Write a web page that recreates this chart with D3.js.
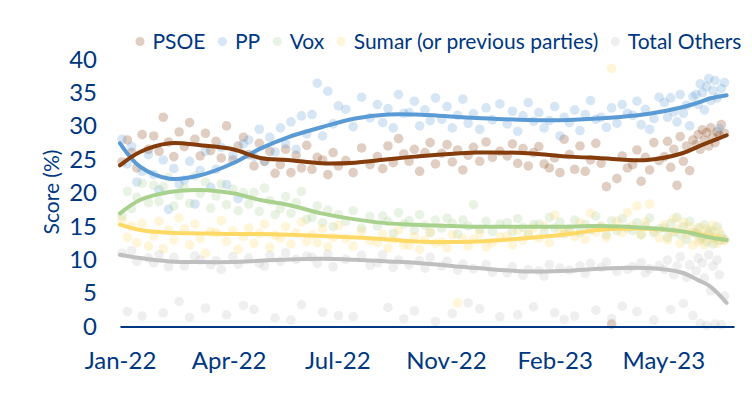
<!DOCTYPE html>
<html>
<head>
<meta charset="utf-8">
<script src="https://cdn.jsdelivr.net/npm/d3@7"></script>
<style>
  body { margin: 0; background: #fff; }
  text { font-family: Lato, "Open Sans", sans-serif; }
</style>
</head>
<body>
<script>
// Poll dates (one entry per poll, every party read at the same date)
const pollDates = [
  "2022-01-03","2022-01-08","2022-01-12","2022-01-17","2022-01-22","2022-01-28",
  "2022-02-02","2022-02-07","2022-02-11","2022-02-16","2022-02-21","2022-02-26",
  "2022-03-03","2022-03-08","2022-03-13","2022-03-18","2022-03-23","2022-03-28",
  "2022-04-02","2022-04-07","2022-04-12","2022-04-18","2022-04-23","2022-04-28",
  "2022-05-03","2022-05-08","2022-05-13","2022-05-18","2022-05-23","2022-05-28",
  "2022-06-02","2022-06-07","2022-06-12","2022-06-17","2022-06-22","2022-06-27",
  "2022-07-02","2022-07-07","2022-07-12","2022-07-17","2022-07-22","2022-07-27",
  "2022-08-03","2022-08-10","2022-08-18","2022-08-26",
  "2022-09-02","2022-09-07","2022-09-12","2022-09-17","2022-09-22","2022-09-27",
  "2022-10-02","2022-10-07","2022-10-12","2022-10-17","2022-10-22","2022-10-27",
  "2022-11-02","2022-11-07","2022-11-12","2022-11-17","2022-11-22","2022-11-27",
  "2022-12-02","2022-12-08","2022-12-14","2022-12-20","2022-12-27",
  "2023-01-03","2023-01-08","2023-01-13","2023-01-18","2023-01-23","2023-01-28",
  "2023-02-02","2023-02-07","2023-02-12","2023-02-17","2023-02-22","2023-02-26",
  "2023-03-03","2023-03-08","2023-03-13","2023-03-18","2023-03-23","2023-03-28",
  "2023-04-02","2023-04-07","2023-04-12","2023-04-17","2023-04-22","2023-04-27",
  "2023-05-02","2023-05-06","2023-05-10","2023-05-14","2023-05-18","2023-05-22","2023-05-27",
  "2023-06-01","2023-06-04","2023-06-07","2023-06-10","2023-06-13","2023-06-16","2023-06-19","2023-06-22","2023-06-25","2023-06-28",
  "2023-07-01","2023-07-03","2023-07-05","2023-07-07","2023-07-09","2023-07-11","2023-07-13","2023-07-15","2023-07-17","2023-07-19","2023-07-21","2023-07-23","2023-07-25","2023-07-28"
];

const psoe = [
  24.5,27.8,25.9,23.6,28.6,26.4, 28.4,26.1,31.2,27.5,25.3,29.0, 26.8,30.4,27.9,25.4,28.8,26.2,
  27.6,25.1,29.9,24.8,26.9,28.2, 25.6,23.9,27.3,24.6,26.1,22.8, 24.1,26.4,22.9,25.5,23.6,27.0,
  23.4,25.2,24.8,22.6,25.9,23.9, 24.7,22.9,26.6,24.1, 25.3,23.5,26.9,24.4,28.0,25.7,
  24.6,26.4,23.1,25.9,27.4,24.2, 25.8,27.1,24.5,26.3,23.3,25.5, 26.7,24.6,27.5,25.2,26.1,
  25.4,27.2,24.3,26.5,23.9,25.9, 26.8,24.2,23.6,25.1,22.9,27.9, 25.6,23.4,26.9,23.1,24.8,27.3,
  24.3,20.8,0.2,22.0,25.4,23.6, 24.1,26.3,21.6,25.2,23.3,27.4,24.7,
  25.3,27.6,23.7,26.4,21.0,28.3,24.6,26.9,23.2,27.8,
  27.1,28.6,26.4,29.3,27.8,28.9,26.9,29.6,28.2,27.4,29.0,28.5,30.1,28.8
];
const pp = [
  27.9,24.2,26.8,21.5,23.1,25.6, 22.6,20.3,24.8,17.4,23.5,21.2, 21.8,24.6,18.2,23.2,26.1,20.7,
  23.4,26.7,21.1,25.5,19.0,27.2, 27.8,25.3,29.4,24.6,28.2,26.0, 29.6,27.2,30.5,26.4,31.4,28.7,
  31.6,36.3,28.4,35.1,30.2,32.9, 32.4,29.8,34.2,31.1, 33.1,30.4,32.5,29.6,34.6,31.8,
  31.9,33.6,29.9,32.3,30.7,34.1, 30.9,32.8,29.6,31.5,33.9,30.3, 31.7,29.4,32.6,30.8,33.2,
  30.2,32.1,29.1,31.4,33.4,30.6, 31.9,29.6,30.7,32.8,28.4,31.2, 30.4,32.3,29.2,31.6,33.7,30.9,
  31.2,29.7,32.6,30.3,33.1,31.8, 31.5,33.6,30.1,32.4,29.4,31.0,34.2,
  33.4,31.2,34.1,32.0,30.5,34.6,31.8,33.0,29.9,34.3,
  34.6,33.1,36.2,34.9,32.3,35.8,37.0,33.7,35.2,36.7,34.1,29.5,35.5,36.4
];
const vox = [
  16.4,20.1,17.5,19.2,21.3,18.4, 21.0,18.6,20.8,22.2,17.9,19.5, 20.6,18.3,22.4,19.8,21.5,17.6,
  19.4,21.2,18.1,20.4,17.2,19.9, 18.2,19.9,17.1,20.6,18.7,16.6, 17.5,19.3,16.8,18.4,20.1,15.9,
  16.2,17.9,15.4,17.3,14.8,16.6, 15.6,17.2,14.6,16.3, 14.9,16.4,15.6,13.8,16.9,15.2,
  15.7,14.3,16.6,15.0,13.9,15.8, 14.6,16.1,15.3,13.7,15.8,14.9, 18.1,14.4,15.6,14.1,15.2,
  15.4,14.1,16.0,14.7,13.6,15.1, 15.2,14.0,16.2,14.6,15.5,13.7, 14.5,15.8,13.9,15.1,14.3,16.4,
  14.9,13.6,15.7,14.2,16.0,14.6, 14.2,15.4,13.6,14.9,16.1,13.9,14.5,
  14.6,13.2,15.3,14.0,16.2,13.6,14.8,12.9,15.6,13.9,
  13.8,14.6,12.9,13.4,15.1,12.5,13.9,14.2,12.2,13.1,14.8,12.7,13.5,12.9
];
const sumar = [
  15.8,13.2,14.9,12.4,15.3,11.9, 13.4,15.6,11.5,14.3,12.8,16.1, 14.5,12.1,15.2,13.0,10.8,14.1,
  13.9,15.7,12.6,14.2,11.4,13.3, 14.6,12.3,13.8,15.2,11.7,13.5, 13.1,14.8,12.2,13.9,15.5,12.6,
  13.6,12.4,14.5,11.8,13.2,15.0, 13.0,11.9,14.1,12.7, 12.4,13.7,11.6,12.9,14.3,12.1,
  12.0,13.3,11.4,12.8,14.0,12.3, 12.5,11.6,13.6,3.4,13.1,11.9, 12.9,13.8,11.8,12.4,13.3,
  13.4,12.1,14.2,12.8,13.7,14.6, 13.1,14.9,12.4,16.5,13.8,14.4, 14.2,13.3,15.4,12.9,16.8,14.0,
  14.8,13.2,38.5,15.6,13.9,16.9, 14.9,17.9,13.6,15.5,18.2,14.2,13.1,
  15.1,12.8,13.9,16.0,14.4,12.3,15.5,13.6,14.8,12.0,
  13.9,12.6,14.7,13.2,12.1,14.4,13.6,12.9,15.0,13.4,12.3,14.1,13.0,12.7
];
const others = [
  10.8,2.1,11.2,9.6,1.4,10.1, 9.4,10.6,1.9,8.8,10.2,3.6, 8.9,1.2,10.4,9.8,2.6,9.1,
  9.7,8.4,1.6,10.3,9.2,3.0, 10.1,2.4,9.3,8.9,10.5,1.1, 9.6,10.9,0.8,9.9,3.1,10.4,
  10.2,9.3,2.0,10.7,8.8,1.5, 9.9,1.3,10.5,9.0, 9.4,10.6,2.7,8.7,9.8,1.0,
  9.1,2.2,9.7,8.6,10.2,0.6, 8.9,9.6,1.8,8.3,9.2,3.4, 8.5,2.5,9.1,8.0,1.3,
  7.9,8.8,1.6,7.5,8.4,2.8, 8.2,7.4,9.1,1.9,8.6,0.9, 8.3,1.4,8.9,7.8,9.3,2.3,
  8.7,9.5,1.0,8.1,2.9,8.4, 8.8,2.1,9.4,7.9,8.5,0.8,9.0,
  8.4,9.8,2.4,7.6,8.9,10.3,3.3,7.2,9.1,1.5,
  8.2,10.1,0.3,9.4,7.1,0.0,10.6,5.2,8.9,0.2,9.8,7.6,0.1,4.4
];

// Trend lines
const trendDates = [
  "2022-01-01","2022-01-20","2022-02-17","2022-03-18","2022-04-18","2022-05-14","2022-06-09",
  "2022-07-11","2022-08-12","2022-09-12","2022-10-08","2022-12-05","2023-01-22","2023-03-03",
  "2023-03-30","2023-05-16","2023-06-18","2023-07-03","2023-07-14","2023-07-30"
];
const psoeTrend   = [24.0,26.0,27.3,27.0,26.4,25.1,24.8,24.3,24.4,24.9,25.3,25.9,25.8,25.3,25.1,24.8,25.8,26.8,27.5,28.5];
const ppTrend     = [27.3,23.8,22.0,22.5,24.3,26.5,28.2,29.7,31.0,31.6,31.6,31.1,30.8,30.8,31.0,31.7,32.7,33.4,34.0,34.5];
const voxTrend    = [16.8,18.8,20.0,20.3,19.8,18.8,18.1,16.8,15.9,15.3,15.1,14.8,14.8,14.8,14.9,14.6,14.1,13.6,13.2,12.8];
const sumarTrend  = [15.1,14.3,13.9,13.8,13.7,13.7,13.6,13.4,13.2,12.9,12.6,12.6,13.1,13.7,14.3,14.5,14.1,13.7,13.3,12.8];
const othersTrend = [10.6,10.1,9.6,9.5,9.5,9.7,9.9,10.0,9.85,9.6,9.4,8.6,8.1,8.2,8.5,8.6,7.9,6.8,5.9,3.4];

const seriesNames = ["PSOE", "PP", "Vox", "Sumar (or previous parties)", "Total Others"];
const seriesColors = ["#843C0C", "#5B9BD5", "#A9D18E", "#FFD966", "#BFBFBF"];
const yTicks = [0, 5, 10, 15, 20, 25, 30, 35, 40];
const xTicks = ["2022-01-01","2022-04-14","2022-07-26","2022-11-06","2023-02-17","2023-05-31"];

const width = 752, height = 396;
const navy = "#003781";
const parse = d3.timeParse("%Y-%m-%d");

const svg = d3.select("body").append("svg")
  .attr("width", width)
  .attr("height", height);

const x = d3.scaleTime()
  .domain([parse("2022-01-01"), parse("2023-08-06")])
  .range([120, 734]);
const y = d3.scaleLinear()
  .domain([0, 40])
  .range([325.5, 58.5]);

const values = [psoe, pp, vox, sumar, others];
const trends = [psoeTrend, ppTrend, voxTrend, sumarTrend, othersTrend];
const series = seriesNames.map((name, i) => ({
  name: name,
  color: seriesColors[i],
  points: pollDates.map((d, j) => ({date: parse(d), v: values[i][j]})),
  trend: trendDates.map((d, j) => ({date: parse(d), v: trends[i][j]}))
}));

// scatter points
series.forEach(s => {
  svg.append("g")
    .selectAll("circle")
    .data(s.points)
    .join("circle")
    .attr("cx", d => x(d.date))
    .attr("cy", d => y(d.v))
    .attr("r", 4.8)
    .attr("fill", s.color)
    .attr("fill-opacity", 0.25);
});

// trend lines
const line = d3.line()
  .x(d => x(d.date))
  .y(d => y(d.v))
  .curve(d3.curveCatmullRom.alpha(0.5));

[4, 3, 2, 1, 0].forEach(i => {
  svg.append("path")
    .datum(series[i].trend)
    .attr("d", line)
    .attr("fill", "none")
    .attr("stroke", series[i].color)
    .attr("stroke-width", 4)
    .attr("stroke-linecap", "round");
});

// x axis
const xAxis = svg.append("g")
  .attr("transform", `translate(0,${y(0) + 1})`)
  .call(d3.axisBottom(x)
    .tickValues(xTicks.map(parse))
    .tickFormat(d3.timeFormat("%b-%y"))
    .tickSize(0)
    .tickSizeOuter(0));
xAxis.select(".domain").attr("stroke", navy).attr("stroke-width", 2.2);
xAxis.selectAll(".tick text")
  .attr("y", 42)
  .attr("dy", 0)
  .attr("fill", navy)
  .style("font-size", "24px")
  .style("font-family", "Lato, sans-serif");

// y axis
const yAxis = svg.append("g")
  .attr("transform", "translate(97,0)")
  .call(d3.axisLeft(y).tickValues(yTicks).tickSize(0).tickPadding(0));
yAxis.select(".domain").remove();
yAxis.selectAll(".tick text")
  .attr("dy", "0.36em")
  .attr("fill", navy)
  .style("font-size", "24px")
  .style("font-family", "Lato, sans-serif");

svg.append("text")
  .attr("transform", "translate(52,192) rotate(-90)")
  .attr("text-anchor", "middle")
  .attr("dy", "0.35em")
  .attr("fill", navy)
  .style("font-size", "21px")
  .text("Score (%)");

// legend
let lx = 140;
series.forEach(s => {
  svg.append("circle")
    .attr("cx", lx).attr("cy", 41.5).attr("r", 4.5)
    .attr("fill", s.color).attr("fill-opacity", 0.25);
  const t = svg.append("text")
    .attr("x", lx + 12.5).attr("y", 49)
    .attr("fill", navy)
    .style("font-size", "21px")
    .text(s.name);
  lx += 12.5 + t.node().getComputedTextLength() + 17;
});
</script>
</body>
</html>
